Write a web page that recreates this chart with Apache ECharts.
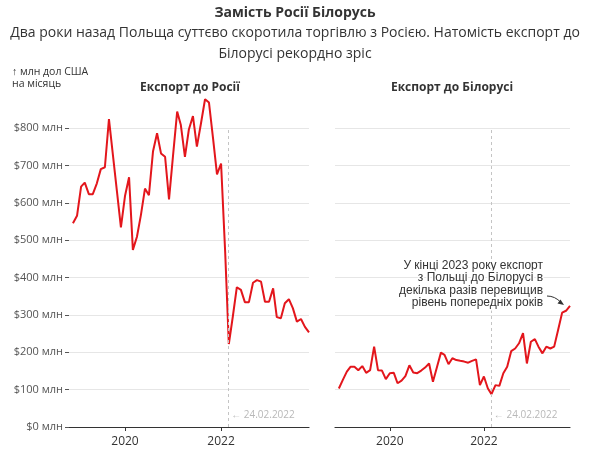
<!DOCTYPE html>
<html>
<head>
<meta charset="utf-8">
<script src="https://cdn.jsdelivr.net/npm/echarts@6/dist/echarts.min.js"></script>
<style>
html,body{margin:0;padding:0;background:#fff;}
#c{width:590px;height:459px;}
</style>
</head>
<body>
<div id="c"></div>
<script>
// Months: Dec 2018 – Nov 2023
const months = [
  '2018-12',
  '2019-01','2019-02','2019-03','2019-04','2019-05','2019-06','2019-07','2019-08','2019-09','2019-10','2019-11','2019-12',
  '2020-01','2020-02','2020-03','2020-04','2020-05','2020-06','2020-07','2020-08','2020-09','2020-10','2020-11','2020-12',
  '2021-01','2021-02','2021-03','2021-04','2021-05','2021-06','2021-07','2021-08','2021-09','2021-10','2021-11','2021-12',
  '2022-01','2022-02','2022-03','2022-04','2022-05','2022-06','2022-07','2022-08','2022-09','2022-10','2022-11','2022-12',
  '2023-01','2023-02','2023-03','2023-04','2023-05','2023-06','2023-07','2023-08','2023-09','2023-10','2023-11'
];
// Export to Russia, mln USD per month
const exportRussia = [
  545,
  565,643,654,623,623,652,690,695,824,728,630,534,
  618,668,474,509,567,638,620,737,786,732,723,609,
  728,844,808,723,796,832,750,812,877,868,772,676,
  705,470,222,297,374,367,334,334,386,393,389,335,
  335,371,294,291,331,342,318,282,289,268,253
];
// Export to Belarus, mln USD per month
const exportBelarus = [
  103,
  126,148,161,161,152,163,145,152,215,152,151,128,
  144,145,117,124,136,165,146,144,151,159,170,121,
  160,199,193,168,184,179,177,175,172,177,181,112,
  135,103,88,112,110,144,161,203,210,224,251,170,
  228,235,215,197,215,210,215,260,306,311,324
];
const yearTicks = ['2020-01-01', '2022-01-01'];
const invasionDate = '2022-02-24';
const axisStart = '2018-11-01';
const axisEnd = '2023-11-01';

const toTs = s => { const p = s.split('-').map(Number); return Date.UTC(p[0], p[1]-1, p[2] || 1); };
const tickTs = yearTicks.map(toTs);
const RED = '#e3161c';
const FONT = '"Open Sans", "Noto Sans", sans-serif';

function xAxisCfg(gi){
  return {
    type:'value', gridIndex:gi, min: toTs(axisStart), max: toTs(axisEnd),
    axisLine:{show:true, onZero:false, lineStyle:{color:'#333', width:1.2}},
    axisTick:{show:true, customValues: tickTs, length:4, lineStyle:{color:'#333'}},
    axisLabel:{show:true, customValues: tickTs, formatter: v => String(new Date(v).getUTCFullYear()),
      color:'#333', fontSize:12, fontFamily:FONT, margin:9},
    splitLine:{show:false}
  };
}
function yAxisCfg(gi, labels){
  return {
    type:'value', gridIndex:gi, min:0, max:800, interval:100,
    axisLine:{show:false},
    axisTick:{show:labels, length:4, lineStyle:{color:'#555'}},
    axisLabel:{show:labels, formatter:'${value} млн', color:'#555', fontSize:11, fontFamily:FONT, margin:6},
    splitLine:{show:true, lineStyle:{color:'#e6e6e6', width:1}}
  };
}
function seriesCfg(gi, vals){
  return {
    type:'line', xAxisIndex:gi, yAxisIndex:gi, clip:false,
    data: months.map((m,i)=>[toTs(m+'-01'), vals[i]]),
    showSymbol:false, symbol:'none',
    lineStyle:{color:RED, width:2},
    itemStyle:{color:RED},
    markLine:{
      silent:true, symbol:['none','none'],
      lineStyle:{color:'#c4c4c4', type:[3,3], width:1},
      label:{show:false},
      data:[{xAxis: toTs(invasionDate)}]
    },
    markPoint:{
      silent:true, symbol:'circle', symbolSize:0,
      label:{show:true, position:'right', distance:3, formatter:'← 24.02.2022', color:'#b8b8b8', fontSize:10, fontFamily:FONT},
      data:[{coord:[toTs(invasionDate), 32]}]
    }
  };
}

const chart = echarts.init(document.getElementById('c'), null, {renderer:'canvas'});
chart.setOption({
  animation:false,
  backgroundColor:'#fff',
  grid:[
    {left:69, top:128, width:240, height:299},
    {left:335, top:128, width:235, height:299}
  ],
  xAxis:[xAxisCfg(0), xAxisCfg(1)],
  yAxis:[yAxisCfg(0,true), yAxisCfg(1,false)],
  series:[seriesCfg(0, exportRussia), seriesCfg(1, exportBelarus)],
  graphic:[
    {type:'text', style:{text:'Замість Росії Білорусь', x:295, y:13, align:'center', verticalAlign:'middle',
      font:'bold 14px ' + FONT, fill:'#333'}},
    {type:'text', style:{text:'Два роки назад Польща суттєво скоротила торгівлю з Росією. Натомість експорт до\nБілорусі рекордно зріс',
      x:295, y:23, align:'center', verticalAlign:'top', font:'14px ' + FONT, lineHeight:21, fill:'#333'}},
    {type:'text', style:{text:'↑ млн дол США\nна місяць', x:12, y:66, align:'left', verticalAlign:'top',
      font:'10.5px ' + FONT, lineHeight:12, fill:'#333'}},
    {type:'text', style:{text:'Експорт до Росії', x:190, y:88, align:'center', verticalAlign:'middle',
      font:'bold 12px ' + FONT, fill:'#333'}},
    {type:'text', style:{text:'Експорт до Білорусі', x:452, y:88, align:'center', verticalAlign:'middle',
      font:'bold 12px ' + FONT, fill:'#333'}},
    {type:'text', z:10, style:{text:'У кінці 2023 року експорт\nз Польщі до Білорусі в\nдекілька разів перевищив\nрівень попередніх років',
      x:543, y:259, align:'right', verticalAlign:'top', font:'12px "Liberation Sans", Arial, sans-serif', lineHeight:12.5, fill:'#333',
      stroke:'#fff', lineWidth:3}},
    {type:'bezierCurve', z:10, shape:{x1:547, y1:296, cpx1:555, cpy1:296, x2:561, y2:302.5},
      style:{stroke:'#333', lineWidth:1, fill:null}},
    {type:'polygon', z:10, shape:{points:[[564,305],[557.5,303.5],[560.5,299.5]]}, style:{fill:'#333'}}
  ]
});
</script>
</body>
</html>
